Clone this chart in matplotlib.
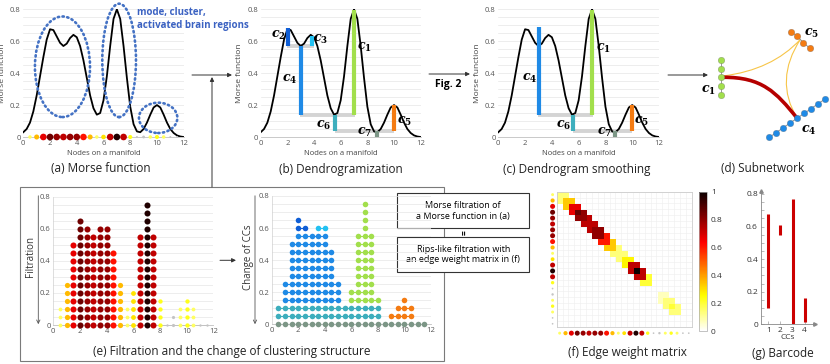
import numpy as np
import matplotlib
matplotlib.use('Agg')
import matplotlib.pyplot as plt
from matplotlib.patches import Ellipse, Rectangle, PathPatch
from matplotlib.path import Path
from matplotlib import colors as mcolors

plt.rcParams['font.family'] = ['Open Sans', 'DejaVu Sans']
plt.rcParams['mathtext.fontset'] = 'custom'
plt.rcParams['mathtext.it'] = 'DejaVu Serif:italic:bold'
plt.rcParams['mathtext.rm'] = 'DejaVu Serif:bold'

# Morse function, every 0.25
curve_x = np.arange(0, 12.01, 0.25)
curve_y = [0.03, 0.05, 0.09, 0.16, 0.26, 0.38, 0.50, 0.61, 0.675, 0.67,
           0.63, 0.59, 0.57, 0.585, 0.62, 0.64, 0.625, 0.57, 0.48, 0.37,
           0.26, 0.18, 0.14, 0.15, 0.23, 0.38, 0.57, 0.74, 0.80, 0.74,
           0.57, 0.37, 0.19, 0.08, 0.035, 0.03, 0.05, 0.09, 0.14, 0.185,
           0.20, 0.185, 0.14, 0.09, 0.05, 0.025, 0.01, 0.003, 0.0]

# nodes on the manifold and their (filtration) values
node_x = np.arange(0.5, 11.6, 0.5)
node_val = [0.10, 0.25, 0.50, 0.65, 0.60, 0.55, 0.60, 0.60, 0.45, 0.25, 0.10, 0.20,
            0.55, 0.75, 0.55, 0.15, 0.00, 0.05, 0.10, 0.15, 0.10, 0.00, 0.00]
levels = np.round(np.arange(0, 0.76, 0.05), 2)

# blue dotted regions in (a)
ell_cx = [2.93, 7.17, 10.09]
ell_cy = [0.44, 0.48, 0.12]
ell_w = [4.12, 2.52, 2.87]
ell_h = [0.63, 0.71, 0.19]

cc_colors = {'c1': '#a2df4c', 'c2': '#0f5ed6', 'c3': '#22c1f2', 'c4': '#1f8ae6',
             'c5': '#f47b12', 'c6': '#3daebd', 'c7': '#7c9686'}

# dendrogram (b): bar x, low, high
dend_b_names = ['c1', 'c2', 'c3', 'c4', 'c5', 'c6', 'c7']
dend_b_x = [7.03, 2.07, 3.85, 3.03, 10.0, 5.6, 8.7]
dend_b_lo = [0.14, 0.57, 0.57, 0.14, 0.035, 0.035, 0.0]
dend_b_hi = [0.795, 0.68, 0.635, 0.57, 0.20, 0.14, 0.035]
merge_b_y = [0.57, 0.14, 0.035]
merge_b_x0 = [2.0, 2.95, 5.55]
merge_b_x1 = [4.02, 7.05, 10.0]
label_b_x = [7.75, 1.3, 4.5, 2.15, 10.8, 4.7, 7.8]
label_b_y = [0.56, 0.635, 0.61, 0.36, 0.095, 0.075, 0.03]

# dendrogram smoothing (c)
dend_c_names = ['c1', 'c4', 'c5', 'c6', 'c7']
dend_c_x = [7.03, 3.03, 10.0, 5.6, 8.7]
dend_c_lo = [0.14, 0.14, 0.035, 0.035, 0.0]
dend_c_hi = [0.795, 0.69, 0.20, 0.14, 0.035]
merge_c_y = [0.14, 0.035]
merge_c_x0 = [2.95, 5.55]
merge_c_x1 = [7.05, 10.0]
label_c_x = [7.85, 2.35, 10.7, 4.85, 7.95]
label_c_y = [0.555, 0.365, 0.095, 0.075, 0.03]

# subnetwork (d) layout
green_x = [721, 721, 721, 721, 721]
green_y = [60, 68.7, 77.3, 86, 94.7]
orange_x = [790.7, 797.3, 803.3, 810]
orange_y = [31.7, 36, 42.7, 48.3]
blue_x = [769.3, 776.3, 783.2, 790.2, 797.1, 804.1, 811.1, 818.0, 825.0]
blue_y = [137.3, 132.5, 127.7, 122.9, 118.2, 113.4, 108.6, 103.8, 99.0]

# barcode (g)
bar_cc = [1, 2, 3, 4]
bar_birth = [0.10, 0.55, 0.0, 0.015]
bar_death = [0.675, 0.61, 0.77, 0.16]

W_PX, H_PX = 830, 364
fig = plt.figure(figsize=(8.3, 3.64), dpi=100)


def px_axes(l, t, r, b, **kw):
    return fig.add_axes([l / W_PX, 1 - b / H_PX, (r - l) / W_PX, (b - t) / H_PX], **kw)


def ptext(x, y, s, **kw):
    fig.text(x / W_PX, 1 - y / H_PX, s, **kw)


hot = plt.get_cmap('hot_r')
node_norm = mcolors.PowerNorm(gamma=0.9, vmin=0, vmax=0.78)


def node_color(v):
    if v < 0.1:
        return '#c4c4c4'
    return hot(node_norm(v))


def morse_axes(ax):
    ax.set_xlim(0, 12)
    ax.set_ylim(0, 0.8)
    ax.set_yticks(np.arange(0, 0.81, 0.05), minor=True)
    ax.set_yticks([0, 0.2, 0.4, 0.6, 0.8])
    ax.set_yticklabels(['0', '0.2', '0.4', '0.6', '0.8'])
    ax.set_xticks(range(0, 13, 2))
    ax.grid(axis='y', which='both', color='#e6e6e6', lw=0.5)
    ax.set_axisbelow(True)
    for s in ['top', 'right', 'left']:
        ax.spines[s].set_visible(False)
    ax.spines['bottom'].set_color('#c0c0c0')
    ax.spines['bottom'].set_linewidth(0.6)
    ax.tick_params(which='both', length=0, labelsize=5.5, labelcolor='#555555', pad=2)
    ax.set_facecolor('none')


# overlay for boxes, arrows and free text
ov = fig.add_axes([0, 0, 1, 1])
ov.set_xlim(0, W_PX)
ov.set_ylim(H_PX, 0)
ov.axis('off')

# ---------- (a) Morse function ----------
ax_a = px_axes(23.3, 9.3, 183.7, 137)
morse_axes(ax_a)
ax_a.plot(curve_x, curve_y, color='black', lw=1.3, zorder=3)
for cx, cy, w, h in zip(ell_cx, ell_cy, ell_w, ell_h):
    ax_a.add_patch(Ellipse((cx, cy), w, h, fill=False, ec='#4472c4', lw=1.9,
                           ls=(0, (0.5, 1.3)), capstyle='round', clip_on=False, zorder=4))
ax_a.scatter(node_x, np.zeros(len(node_x)), s=np.clip(2 + 45 * np.array(node_val), 2, 23),
             c=[node_color(v) for v in node_val], clip_on=False, zorder=5, lw=0)
ax_a.set_ylabel('Morse function', fontsize=6, color='#444444', labelpad=3)
ax_a.set_xlabel('Nodes on a manifold', fontsize=5.5, color='#444444', labelpad=2)
ptext(137, 19, 'mode, cluster,\nactivated brain regions', fontsize=7, fontweight='bold',
      color='#3b62c2', va='center', linespacing=1.15)
ptext(101, 169, '(a) Morse function', fontsize=8.5, ha='center', va='center', color='#222222')


def draw_dend(ax, names, xs, lo, hi, my, mx0, mx1, lx, ly):
    for y, x0, x1 in zip(my, mx0, mx1):
        ax.plot([x0, x1], [y, y], color='#d4d4d4', lw=2.8, solid_capstyle='butt', zorder=2)
    for nm, x, a, b in zip(names, xs, lo, hi):
        ax.plot([x, x], [a, b], color=cc_colors[nm], lw=3, solid_capstyle='butt', zorder=4)
    for nm, x, y in zip(names, lx, ly):
        ax.text(x, y, '$c_%s$' % nm[1], fontsize=9, ha='center', va='center', zorder=6)


# ---------- (b) Dendrogramization ----------
ax_b = px_axes(260.7, 9.3, 420.7, 137)
morse_axes(ax_b)
ax_b.plot(curve_x, curve_y, color='black', lw=1.3, zorder=3)
draw_dend(ax_b, dend_b_names, dend_b_x, dend_b_lo, dend_b_hi, merge_b_y, merge_b_x0,
          merge_b_x1, label_b_x, label_b_y)
ax_b.set_ylabel('Morse function', fontsize=6, color='#444444', labelpad=3)
ax_b.set_xlabel('Nodes on a manifold', fontsize=5.5, color='#444444', labelpad=2)
ptext(341, 169, '(b) Dendrogramization', fontsize=8.5, ha='center', va='center', color='#222222')

# ---------- (c) Dendrogram smoothing ----------
ax_c = px_axes(498.3, 9.3, 659, 137)
morse_axes(ax_c)
ax_c.plot(curve_x, curve_y, color='black', lw=1.3, zorder=3)
draw_dend(ax_c, dend_c_names, dend_c_x, dend_c_lo, dend_c_hi, merge_c_y, merge_c_x0,
          merge_c_x1, label_c_x, label_c_y)
ax_c.set_ylabel('Morse function', fontsize=6, color='#444444', labelpad=3)
ax_c.set_xlabel('Nodes on a manifold', fontsize=5.5, color='#444444', labelpad=2)
ptext(577, 169, '(c) Dendrogram smoothing', fontsize=8.5, ha='center', va='center', color='#222222')

# ---------- (d) Subnetwork ----------
ax_d = px_axes(690, 15, 830, 150)
ax_d.set_xlim(690, 830)
ax_d.set_ylim(150, 15)
ax_d.axis('off')
red_path = Path([(723, 77.3), (762, 77), (776, 92), (797.1, 118.2)],
                [Path.MOVETO, Path.CURVE4, Path.CURVE4, Path.CURVE4])
ax_d.add_patch(PathPatch(red_path, fc='none', ec='#b50000', lw=2.6, zorder=2))
y1_path = Path([(723, 76), (772, 70), (800.3, 39.5)], [Path.MOVETO, Path.CURVE3, Path.CURVE3])
ax_d.add_patch(PathPatch(y1_path, fc='none', ec='#f7c548', lw=0.8, zorder=1))
y2_path = Path([(800.3, 39.5), (774, 80), (797.1, 118.2)], [Path.MOVETO, Path.CURVE3, Path.CURVE3])
ax_d.add_patch(PathPatch(y2_path, fc='none', ec='#f7c548', lw=0.8, zorder=1))
for xs, ys, col in [(green_x, green_y, cc_colors['c1']), (orange_x, orange_y, cc_colors['c5']),
                    (blue_x, blue_y, cc_colors['c4'])]:
    ax_d.plot(xs, ys, color='#888888', lw=0.6, zorder=3)
    ax_d.scatter(xs, ys, s=22, color=col, edgecolors='#666666', linewidths=0.2, zorder=4)
ax_d.text(708.3, 90, '$c_1$', fontsize=9, ha='center', va='center')
ax_d.text(812, 33, '$c_5$', fontsize=9, ha='center', va='center')
ax_d.text(808.3, 130.7, '$c_4$', fontsize=9, ha='center', va='center')
ptext(763, 168, '(d) Subnetwork', fontsize=8.5, ha='center', va='center', color='#222222')

# ---------- arrows on top row ----------
arr = dict(arrowstyle='-|>', color='#333333', lw=0.7, mutation_scale=6, shrinkA=0, shrinkB=0)
ov.annotate('', xy=(232, 75), xytext=(192, 75), arrowprops=arr)
ov.annotate('', xy=(212, 77), xytext=(212, 187), arrowprops=arr)
ov.annotate('', xy=(470, 74), xytext=(429, 74), arrowprops=arr)
ov.text(448, 85, 'Fig. 2', fontsize=7.5, fontweight='bold', ha='center', va='center')
ov.annotate('', xy=(708, 75), xytext=(668, 75), arrowprops=arr)

# ---------- (e) Filtration ----------
ov.add_patch(Rectangle((20, 187), 424, 174, fill=False, ec='#7a7a7a', lw=0.8))
ov.add_patch(Rectangle((397.3, 193.3), 132, 35, fc='white', ec='#333333', lw=0.8, zorder=3))
ov.add_patch(Rectangle((397.3, 237.3), 132, 34.4, fc='white', ec='#333333', lw=0.8, zorder=3))
ov.text(463.3, 211, 'Morse filtration of\na Morse function in (a)', fontsize=6.5,
        ha='center', va='center', zorder=4, linespacing=1.25)
ov.text(463.3, 254.5, 'Rips-like filtration with\nan edge weight matrix in (f)', fontsize=6.5,
        ha='center', va='center', zorder=4, linespacing=1.25)
ov.text(466, 232.8, '=', rotation=90, fontsize=6, fontweight='bold', ha='center', va='center',
        zorder=4)
ov.annotate('', xy=(236, 260.3), xytext=(220, 260.3), arrowprops=arr)
ov.annotate('', xy=(38.3, 327), xytext=(38.3, 193),
            arrowprops=dict(arrowstyle='->', color='#555555', lw=0.6, mutation_scale=6))
ov.annotate('', xy=(255, 327), xytext=(255, 193),
            arrowprops=dict(arrowstyle='->', color='#555555', lw=0.6, mutation_scale=6))
ov.text(30.7, 256.7, 'Filtration', rotation=90, fontsize=7, ha='center', va='center', color='#333333')
ov.text(248.3, 256.7, 'Change of CCs', rotation=90, fontsize=7, ha='center', va='center',
        color='#333333')
ptext(232, 351, '(e) Filtration and the change of clustering structure', fontsize=8.5,
      ha='center', va='center', color='#222222')


def filt_axes(ax):
    morse_axes(ax)
    ax.spines['left'].set_visible(True)
    ax.spines['left'].set_color('#d0d0d0')
    ax.spines['left'].set_linewidth(0.5)


ax_e1 = px_axes(53.3, 196.7, 213.3, 325)
filt_axes(ax_e1)
ax_e1.plot([node_x[0], node_x[-1]], [0, 0], color='#c8c8c8', lw=0.6, zorder=2, clip_on=False)
for xv, v in zip(node_x, node_val):
    ls = levels[levels <= v + 1e-9]
    ax_e1.scatter(np.full(len(ls), xv), ls, s=np.clip(3 + 45 * v, 3, 19), color=node_color(v),
                  lw=0, zorder=3, clip_on=False)

ax_e2 = px_axes(271.7, 196, 431, 324.3)
filt_axes(ax_e2)


def cc_name(members):
    s = set(members)
    if len(s) == len(node_x):
        return 'c7'
    if 2.0 in s and 7.0 in s:
        return 'c6'
    if 2.0 in s and 4.0 in s:
        return 'c4'
    if 2.0 in s:
        return 'c2'
    if 4.0 in s:
        return 'c3'
    if 7.0 in s:
        return 'c1'
    return 'c5'


for lev in levels:
    alive = [v >= lev - 1e-9 for v in node_val]
    comps, cur = [], []
    for xv, a in zip(node_x, alive):
        if a:
            cur.append(xv)
        elif cur:
            comps.append(cur)
            cur = []
    if cur:
        comps.append(cur)
    for comp in comps:
        col = cc_colors[cc_name(comp)]
        ax_e2.plot(comp, [lev] * len(comp), color=col, lw=0.8, zorder=2, clip_on=False)
        ax_e2.scatter(comp, [lev] * len(comp), s=16, color=col, lw=0, zorder=3, clip_on=False)

# ---------- (f) Edge weight matrix ----------
n = len(node_x)
W = np.zeros((n, n))
for i in range(n):
    W[i, i] = node_val[i]
    if i < n - 1:
        W[i, i + 1] = W[i + 1, i] = min(node_val[i], node_val[i + 1])
W = W / max(node_val)

ax_f = px_axes(556.7, 191.7, 691.7, 326.7)
ax_f.imshow(np.ma.masked_where(W <= 0, W), cmap='hot_r', vmin=0, vmax=1, aspect='auto',
            interpolation='nearest', zorder=2)
ax_f.set_xlim(-0.5, n - 0.5)
ax_f.set_ylim(n - 0.5, -0.5)
ax_f.set_xticks(np.arange(-0.5, n, 1), minor=True)
ax_f.set_yticks(np.arange(-0.5, n, 1), minor=True)
ax_f.set_xticks([])
ax_f.set_yticks([])
ax_f.grid(which='minor', color='#eeeeee', lw=0.4)
ax_f.set_axisbelow(True)
ax_f.tick_params(which='both', length=0)
for s in ax_f.spines.values():
    s.set_color('#cccccc')
    s.set_linewidth(0.6)
fsz = np.clip(1.5 + 30 * np.array(node_val), 1.5, 13)
fcol = [node_color(v) for v in node_val]
ax_f.scatter(np.full(n, -1.2), np.arange(n), s=fsz, c=fcol, lw=0, clip_on=False)
ax_f.scatter(np.arange(n), np.full(n, n + 0.6), s=fsz, c=fcol, lw=0, clip_on=False)

cax = px_axes(699.3, 191.7, 706.7, 331)
cb = fig.colorbar(plt.cm.ScalarMappable(norm=mcolors.Normalize(0, 1), cmap='hot_r'), cax=cax)
cb.set_ticks([0, 0.2, 0.4, 0.6, 0.8, 1])
cb.set_ticklabels(['0', '0.2', '0.4', '0.6', '0.8', '1'])
cb.ax.tick_params(labelsize=6, length=0, labelcolor='#333333', pad=3)
cb.outline.set_edgecolor('#aaaaaa')
cb.outline.set_linewidth(0.5)
ptext(627, 352.7, '(f) Edge weight matrix', fontsize=8.5, ha='center', va='center', color='#222222')

# ---------- (g) Barcode ----------
ax_g = px_axes(760.7, 190.7, 815, 324.3)
ax_g.set_xlim(0.37, 4.86)
ax_g.set_ylim(0, 0.82)
ax_g.vlines(bar_cc, bar_birth, bar_death, color='#cc0000', lw=2.2)
for s in ['top', 'right']:
    ax_g.spines[s].set_visible(False)
for s in ['left', 'bottom']:
    ax_g.spines[s].set_color('#888888')
    ax_g.spines[s].set_linewidth(0.6)
ax_g.plot(0, 1, marker='^', color='#888888', ms=2.5, transform=ax_g.transAxes, clip_on=False)
ax_g.plot(1, 0, marker='>', color='#888888', ms=2.5, transform=ax_g.transAxes, clip_on=False)
ax_g.set_yticks([0, 0.2, 0.4, 0.6, 0.8])
ax_g.set_yticklabels(['0', '0.2', '0.4', '0.6', '0.8'])
ax_g.set_yticks(np.arange(0, 0.81, 0.05), minor=True)
ax_g.set_xticks(bar_cc)
ax_g.tick_params(which='both', direction='in', length=2, width=0.4, color='#888888',
                 labelsize=6, labelcolor='#333333', pad=2)
ax_g.set_xlabel('CCs', fontsize=6, color='#333333', labelpad=0)
ax_g.set_facecolor('none')
ptext(783, 354, '(g) Barcode', fontsize=8.5, ha='center', va='center', color='#222222')

fig.savefig('out.png', dpi=100)
